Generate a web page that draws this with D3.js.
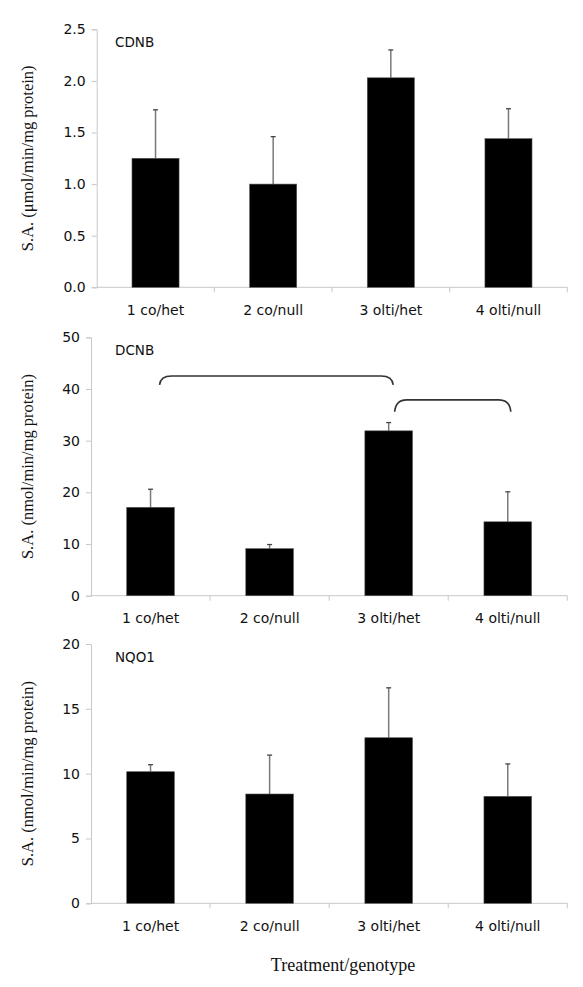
<!DOCTYPE html>
<html><head><meta charset="utf-8">
<script src="https://cdn.jsdelivr.net/npm/d3@7"></script>
<style>
html,body{margin:0;padding:0;background:#fff;}
svg{display:block;}
</style></head>
<body>
<svg id="chart" width="583" height="987"></svg>
<script>
const categories = ["1 co/het", "2 co/null", "3 olti/het", "4 olti/null"];
const panelNames = ["CDNB", "DCNB", "NQO1"];
const yTitles = ["S.A. (\u03bcmol/min/mg protein)", "S.A. (nmol/min/mg protein)", "S.A. (nmol/min/mg protein)"];
const cdnbValues = [1.25, 1.00, 2.03, 1.44];
const cdnbErrors = [0.47, 0.46, 0.27, 0.29];
const dcnbValues = [17.1, 9.1, 31.9, 14.3];
const dcnbErrors = [3.5, 0.8, 1.6, 5.8];
const nqo1Values = [10.15, 8.43, 12.77, 8.25];
const nqo1Errors = [0.54, 3.0, 3.85, 2.5];
const cdnbTicks = [0, 0.5, 1.0, 1.5, 2.0, 2.5];
const dcnbTicks = [0, 10, 20, 30, 40, 50];
const nqo1Ticks = [0, 5, 10, 15, 20];
// significance brackets in DCNB panel: [fromIndex, toIndex, topLevel, endLevel]
const dcnbBrackets = [[0, 2, 42.5, 40.8], [2, 3, 37.9, 35.6]];
const xTitle = "Treatment/genotype";

const svg = d3.select("#chart");

const panels = [
  {name: panelNames[0], title: yTitles[0], values: cdnbValues, errors: cdnbErrors, ticks: cdnbTicks, fmt: d3.format(".1f"),
   left: 96.7, right: 567.3, top: 29.3, bottom: 287.3, brackets: []},
  {name: panelNames[1], title: yTitles[1], values: dcnbValues, errors: dcnbErrors, ticks: dcnbTicks, fmt: d3.format("d"),
   left: 91, right: 567.3, top: 337.3, bottom: 595.7, brackets: dcnbBrackets},
  {name: panelNames[2], title: yTitles[2], values: nqo1Values, errors: nqo1Errors, ticks: nqo1Ticks, fmt: d3.format("d"),
   left: 91, right: 567.3, top: 644, bottom: 903.3, brackets: []}
];

const axisColor = "#c8c8c8";
const sans = "'DejaVu Sans', Verdana, sans-serif";
const serif = "'Liberation Serif', 'Times New Roman', serif";

panels.forEach(p => {
  const g = svg.append("g");
  const x = d3.scaleBand().domain(categories).range([p.left, p.right]).paddingInner(0).paddingOuter(0);
  const y = d3.scaleLinear().domain([0, p.ticks[p.ticks.length - 1]]).range([p.bottom, p.top]);

  // y axis
  const yAxis = g.append("g").attr("transform", `translate(${p.left},0)`)
    .call(d3.axisLeft(y).tickValues(p.ticks).tickFormat(p.fmt).tickSize(5).tickPadding(6));
  yAxis.select(".domain").attr("stroke", axisColor);
  yAxis.selectAll(".tick line").attr("stroke", axisColor);
  yAxis.selectAll(".tick text").attr("font-family", sans).attr("font-size", 14).attr("fill", "#111");

  // x axis line
  g.append("line").attr("x1", p.left).attr("x2", p.right).attr("y1", p.bottom).attr("y2", p.bottom)
    .attr("stroke", axisColor);
  // boundary ticks
  const bounds = categories.map(c => x(c)).concat([x(categories[categories.length - 1]) + x.bandwidth()]);
  g.selectAll(".bt").data(bounds.slice(1)).join("line")
    .attr("x1", d => d).attr("x2", d => d).attr("y1", p.bottom).attr("y2", p.bottom + 5)
    .attr("stroke", axisColor);
  // category labels
  g.selectAll(".cl").data(categories).join("text")
    .attr("x", d => x(d) + x.bandwidth() / 2).attr("y", p.bottom + 27.5)
    .attr("text-anchor", "middle").attr("font-family", sans).attr("font-size", 14).attr("fill", "#111")
    .text(d => d);

  const bw = x.bandwidth() * 0.4;
  const data = categories.map((c, i) => ({c, v: p.values[i], e: p.errors[i]}));
  // error bars
  g.selectAll(".eb").data(data).join("line")
    .attr("x1", d => x(d.c) + x.bandwidth() / 2).attr("x2", d => x(d.c) + x.bandwidth() / 2)
    .attr("y1", d => y(d.v)).attr("y2", d => y(d.v + d.e))
    .attr("stroke", "#7a7a7a").attr("stroke-width", 1.5);
  g.selectAll(".ec").data(data).join("line")
    .attr("x1", d => x(d.c) + x.bandwidth() / 2 - 2.5).attr("x2", d => x(d.c) + x.bandwidth() / 2 + 2.5)
    .attr("y1", d => y(d.v + d.e)).attr("y2", d => y(d.v + d.e))
    .attr("stroke", "#444").attr("stroke-width", 1.3);
  // bars
  g.selectAll(".bar").data(data).join("rect")
    .attr("x", d => x(d.c) + x.bandwidth() / 2 - bw / 2).attr("width", bw)
    .attr("y", d => y(d.v)).attr("height", d => y(0) - y(d.v))
    .attr("fill", "#000").attr("stroke", "#555").attr("stroke-width", 0.6);

  // panel label
  g.append("text").attr("x", 115).attr("y", p.top + 17.5)
    .attr("font-family", sans).attr("font-size", 13.5).attr("fill", "#111").text(p.name);

  // y title
  const cy = (p.top + p.bottom) / 2;
  g.append("text").attr("transform", `translate(33,${cy}) rotate(-90)`)
    .attr("text-anchor", "middle").attr("font-family", serif).attr("font-size", 16.5).attr("fill", "#111")
    .text(p.title);

  // brackets
  p.brackets.forEach((b, i) => {
    const c0 = x(categories[b[0]]) + x.bandwidth() / 2;
    const c1 = x(categories[b[1]]) + x.bandwidth() / 2;
    const x0 = c0 + (i === 0 ? 9 : 6);
    const x1 = c1 + (i === 0 ? 4.5 : 3);
    const yt = y(b[2]), ye = y(b[3]);
    const r = 12;
    const path = d3.path();
    path.moveTo(x0, ye);
    path.quadraticCurveTo(x0 + 1, yt, x0 + r, yt);
    path.lineTo(x1 - r, yt);
    path.quadraticCurveTo(x1 - 1, yt, x1, ye);
    g.append("path").attr("d", path.toString()).attr("fill", "none")
      .attr("stroke", "#333").attr("stroke-width", 1.6);
  });
});

svg.append("text").attr("x", 343).attr("y", 971).attr("text-anchor", "middle")
  .attr("font-family", serif).attr("font-size", 18).attr("fill", "#111").text(xTitle);
</script>
</body></html>
